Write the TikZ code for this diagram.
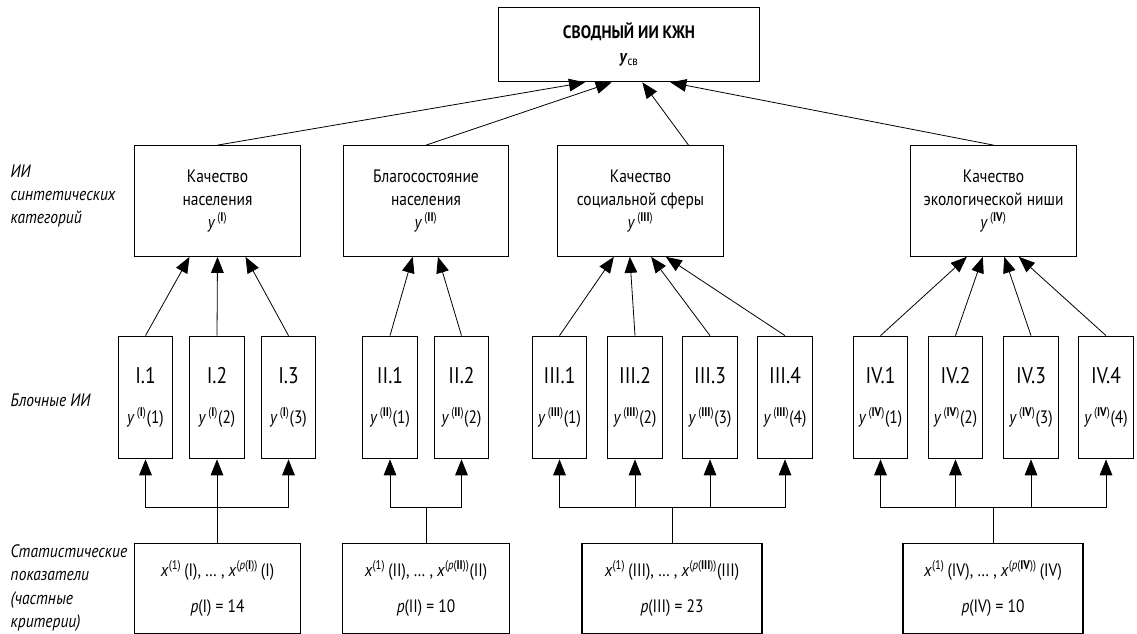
\documentclass[tikz,border=0pt]{standalone}
\usepackage{fontspec}
\setmainfont{PT Sans}[FakeStretch=0.86]
\usepackage{tikz}
\usetikzlibrary{arrows.meta}

\tikzset{
  box/.style={draw, line width=0.8pt, align=center, inner sep=0pt,
    font=\fontsize{13.5}{17.5}\selectfont},
  topbox/.style={box, minimum width=196pt, minimum height=56pt},
  catbox/.style={box, minimum width=124pt, minimum height=83pt},
  blockbox/.style={box, minimum width=41pt, minimum height=92pt},
  statbox/.style={box, minimum height=67pt},
  arr/.style={-{Triangle[length=12pt,width=9.5pt]}, line width=0.6pt},
  line/.style={line width=0.6pt},
  lbl/.style={font=\fontsize{13.5}{17.4}\selectfont\itshape, align=left, anchor=west}
}
\newcommand{\iy}{\textit{y}}
\newcommand{\ix}{\textit{x}}
\newcommand{\ip}{\textit{p}}
\newcommand{\up}[1]{\textsuperscript{\,(\textbf{#1})}}
\newcommand{\blk}[2]{{\fontsize{17}{17}\selectfont #1}\\[13pt]\iy\up{#2}}

\begin{document}
\begin{tikzpicture}[x=0.75pt,y=-0.75pt]
\useasboundingbox (0,0) rectangle (1137,634);

% верхний блок
\node[topbox] (svod) at (629,44.5) {\textbf{СВОДНЫЙ ИИ КЖН}\\[1pt]\textbf{\textit{y}}\textsubscript{св}};

% синтетические категории
\node[catbox] (catI) at (217.5,201) {Качество\\населения\\\iy\up{I}};
\node[catbox] (catII) at (426,201) {Благосостояние\\населения\\\iy\up{II}};
\node[catbox] (catIII) at (640.5,201) {Качество\\социальной сферы\\\iy\up{III}};
\node[catbox] (catIV) at (993.5,201) {Качество\\экологической ниши\\\iy\up{IV}};

% блочные ИИ
\node[blockbox] (bI1) at (145.5,397.5) {\blk{I.1}{I}(1)};
\node[blockbox] (bI2) at (217,397.5) {\blk{I.2}{I}(2)};
\node[blockbox] (bI3) at (288.5,397.5) {\blk{I.3}{I}(3)};
\node[blockbox] (bII1) at (390,397.5) {\blk{II.1}{II}(1)};
\node[blockbox] (bII2) at (461.5,397.5) {\blk{II.2}{II}(2)};
\node[blockbox] (bIII1) at (559.5,397.5) {\blk{III.1}{III}(1)};
\node[blockbox] (bIII2) at (635,397.5) {\blk{III.2}{III}(2)};
\node[blockbox] (bIII3) at (710,397.5) {\blk{III.3}{III}(3)};
\node[blockbox] (bIII4) at (785,397.5) {\blk{III.4}{III}(4)};
\node[blockbox] (bIV1) at (880.5,397.5) {\blk{IV.1}{IV}(1)};
\node[blockbox] (bIV2) at (955.5,397.5) {\blk{IV.2}{IV}(2)};
\node[blockbox] (bIV3) at (1031,397.5) {\blk{IV.3}{IV}(3)};
\node[blockbox] (bIV4) at (1106,397.5) {\blk{IV.4}{IV}(4)};

% статистические показатели
\node[statbox, minimum width=124pt] (statI) at (217.5,588.5)
  {\ix\textsuperscript{(1)}\,(I), … , \ix\textsuperscript{(\ip(\textbf{I}))}\,(I)\\[9pt]\ip(I) = 14};
\node[statbox, minimum width=125pt] (statII) at (426,588.5)
  {\ix\textsuperscript{(1)}\,(II), … , \ix\textsuperscript{(\ip(\textbf{II}))}(II)\\[9pt]\ip(II) = 10};
\node[statbox, minimum width=135pt] (statIII) at (672,588.5)
  {\ix\textsuperscript{(1)}\,(III), … , \ix\textsuperscript{(\ip(\textbf{III}))}(III)\\[9pt]\ip(III) = 23};
\node[statbox, minimum width=135pt] (statIV) at (993,588.5)
  {\ix\textsuperscript{(1)}\,(IV), … , \ix\textsuperscript{(\ip(\textbf{IV}))}\,(IV)\\[9pt]\ip(IV) = 10};

% подписи уровней
\node[lbl] (lblcat) at (6,196) {ИИ\\синтетических\\категорий};
\node[lbl] (lblblock) at (6,400) {Блочные ИИ};
\node[lbl] (lblstat) at (6,588) {Статистические\\показатели\\(частные\\критерии)};

% стрелки к сводному ИИ
\draw[arr] (catI.north) -- ([xshift=-33pt]svod.south);
\draw[arr] (catII.north) -- ([xshift=-13pt]svod.south);
\draw[arr] ([xshift=36pt]catIII.north) -- ([xshift=10pt]svod.south);
\draw[arr] (catIV.north) -- ([xshift=31pt]svod.south);

% стрелки от блоков к категориям
\draw[arr] (bI1.north) -- ([xshift=-21pt]catI.south);
\draw[arr] (bI2.north) -- (catI.south);
\draw[arr] (bI3.north) -- ([xshift=21pt]catI.south);
\draw[arr] (bII1.north) -- ([xshift=-10pt]catII.south);
\draw[arr] (bII2.north) -- ([xshift=9pt]catII.south);
\draw[arr] (bIII1.north) -- ([xshift=-20pt]catIII.south);
\draw[arr] (bIII2.north) -- ([xshift=-8pt]catIII.south);
\draw[arr] (bIII3.north) -- ([xshift=8pt]catIII.south);
\draw[arr] (bIII4.north) -- ([xshift=19pt]catIII.south);
\draw[arr] (bIV1.north) -- ([xshift=-20pt]catIV.south);
\draw[arr] (bIV2.north) -- ([xshift=-8pt]catIV.south);
\draw[arr] (bIV3.north) -- ([xshift=8pt]catIV.south);
\draw[arr] (bIV4.north) -- ([xshift=19pt]catIV.south);

% шины от показателей к блокам
\coordinate (busI) at (217.5,507);
\coordinate (busII) at (426,507);
\coordinate (busIII) at (672,507);
\coordinate (busIV) at (993,507);
\draw[line] (statI.north) -- (busI);
\draw[line] (statII.north) -- (busII);
\draw[line] (statIII.north) -- (busIII);
\draw[line] (statIV.north) -- (busIV);
\draw[arr] (busI) -| (bI1.south);
\draw[arr] (busI) -| (bI2.south);
\draw[arr] (busI) -| (bI3.south);
\draw[arr] (busII) -| (bII1.south);
\draw[arr] (busII) -| (bII2.south);
\draw[arr] (busIII) -| (bIII1.south);
\draw[arr] (busIII) -| (bIII2.south);
\draw[arr] (busIII) -| (bIII3.south);
\draw[arr] (busIII) -| (bIII4.south);
\draw[arr] (busIV) -| (bIV1.south);
\draw[arr] (busIV) -| (bIV2.south);
\draw[arr] (busIV) -| (bIV3.south);
\draw[arr] (busIV) -| (bIV4.south);
\end{tikzpicture}
\end{document}
